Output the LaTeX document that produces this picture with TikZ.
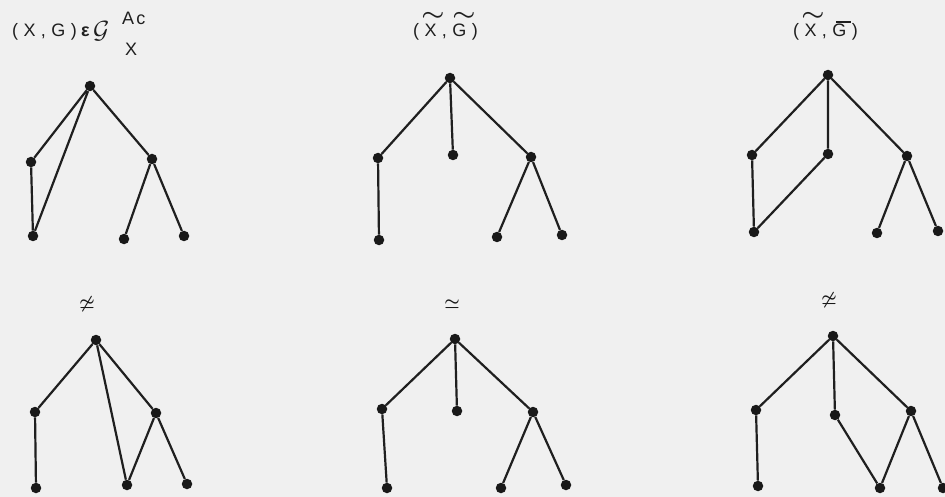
\documentclass[tikz,border=0pt]{standalone}
\usepackage{amsmath}
\usepackage{fontspec}
\setmainfont{Liberation Sans}
\setsansfont{Liberation Sans}
\begin{document}
\begin{tikzpicture}[x=1pt,y=-1pt,
  dot/.style={circle,fill=black!90,inner sep=0pt,minimum size=10.5pt},
  edge/.style={line width=2.2pt,draw=black!88},
  labw/.style={inner sep=0pt,font=\fontsize{18}{21}\selectfont\addfontfeatures{LetterSpace=30},text=black!88},
  lab/.style={inner sep=0pt,font=\fontsize{18}{21}\selectfont\addfontfeatures{LetterSpace=12},text=black!88},
  acc/.style={inner sep=0pt,font=\fontsize{18}{21}\selectfont,text=black!88},
  rel/.style={inner sep=0pt,font=\fontsize{18}{20}\selectfont,text=black!90}]
\fill[white!94!black] (0,0) rectangle (945,497);
\useasboundingbox (0,0) rectangle (945,497);

% ---------- labels ----------
\node[labw,anchor=base west] (t1) at (12,37) {(X,G)};
\node[acc,anchor=base west] (t1e) at (81,37) {\bfseries ε};
\node[acc,anchor=base west] (t1g) at (93,39) {\fontsize{27}{29}\selectfont$\mathcal{G}$};
\node[lab,anchor=base west] (t1s) at (122,25) {Ac};
\node[lab,anchor=base west] (t1x) at (125,56) {X};

\node[labw,anchor=base west] (t2) at (413,37) {(X,G)};
\node[acc] (t2a) at (433,16) {\scalebox{1.5}[1.2]{$\boldsymbol{\sim}$}};
\node[acc] (t2b) at (464,16) {\scalebox{1.5}[1.2]{$\boldsymbol{\sim}$}};

\node[labw,anchor=base west] (t3) at (793,37) {(X,G)};
\node[acc] (t3a) at (813,16) {\scalebox{1.5}[1.2]{$\boldsymbol{\sim}$}};
\coordinate (g3a) at (836,22);
\coordinate (g3b) at (851,22);
\draw[line width=1.4pt,black!88] (g3a) -- (g3b);

\node[rel] (r1) at (87,304) {$\boldsymbol{\not\simeq}$};
\node[rel] (r2) at (452,304) {$\boldsymbol{\simeq}$};
\node[rel] (r3) at (829,300) {$\boldsymbol{\not\simeq}$};

% ---------- graph A (top left) ----------
\node[dot] (a0) at (90,86) {};
\node[dot] (a1) at (31,162) {};
\node[dot] (a2) at (33,236) {};
\node[dot] (a3) at (152,159) {};
\node[dot] (a4) at (124,239) {};
\node[dot] (a5) at (184,236) {};
\draw[edge] (a0)--(a1) (a1)--(a2) (a0)--(a2) (a0)--(a3) (a3)--(a4) (a3)--(a5);

% ---------- graph B (top middle) ----------
\node[dot] (b0) at (450,78) {};
\node[dot] (b1) at (378,158) {};
\node[dot] (b2) at (379,240) {};
\node[dot] (b3) at (453,155) {};
\node[dot] (b4) at (531,157) {};
\node[dot] (b5) at (497,237) {};
\node[dot] (b6) at (562,235) {};
\draw[edge] (b0)--(b1) (b1)--(b2) (b0)--(b3) (b0)--(b4) (b4)--(b5) (b4)--(b6);

% ---------- graph C (top right) ----------
\node[dot] (c0) at (828,75) {};
\node[dot] (c1) at (752,155) {};
\node[dot] (c2) at (754,232) {};
\node[dot] (c3) at (828,154) {};
\node[dot] (c4) at (907,156) {};
\node[dot] (c5) at (877,233) {};
\node[dot] (c6) at (938,231) {};
\draw[edge] (c0)--(c1) (c1)--(c2) (c0)--(c3) (c3)--(c2) (c0)--(c4) (c4)--(c5) (c4)--(c6);

% ---------- graph D (bottom left) ----------
\node[dot] (d0) at (96,340) {};
\node[dot] (d1) at (35,412) {};
\node[dot] (d2) at (36,488) {};
\node[dot] (d3) at (156,413) {};
\node[dot] (d4) at (127,485) {};
\node[dot] (d5) at (187,484) {};
\draw[edge] (d0)--(d1) (d1)--(d2) (d0)--(d3) (d0)--(d4) (d3)--(d4) (d3)--(d5);

% ---------- graph E (bottom middle) ----------
\node[dot] (e0) at (455,339) {};
\node[dot] (e1) at (382,409) {};
\node[dot] (e2) at (387,488) {};
\node[dot] (e3) at (457,411) {};
\node[dot] (e4) at (533,412) {};
\node[dot] (e5) at (501,488) {};
\node[dot] (e6) at (566,485) {};
\draw[edge] (e0)--(e1) (e1)--(e2) (e0)--(e3) (e0)--(e4) (e4)--(e5) (e4)--(e6);

% ---------- graph F (bottom right) ----------
\node[dot] (f0) at (833,336) {};
\node[dot] (f1) at (756,410) {};
\node[dot] (f2) at (758,486) {};
\node[dot] (f3) at (835,415) {};
\node[dot] (f4) at (911,411) {};
\node[dot] (f5) at (880,488) {};
\node[dot] (f6) at (943,488) {};
\draw[edge] (f0)--(f1) (f1)--(f2) (f0)--(f3) (f3)--(f5) (f0)--(f4) (f4)--(f5) (f4)--(f6);
\end{tikzpicture}
\end{document}
